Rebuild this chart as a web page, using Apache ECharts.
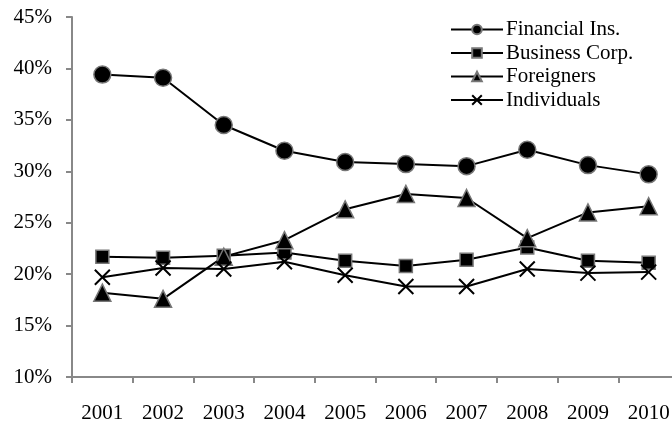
<!DOCTYPE html>
<html><head><meta charset="utf-8">
<script src="https://cdn.jsdelivr.net/npm/echarts@6/dist/echarts.min.js"></script>
<style>html,body{margin:0;padding:0;background:#fff}#c{width:672px;height:423px}</style>
</head><body><div id="c"></div>
<script>
var years = ['2001','2002','2003','2004','2005','2006','2007','2008','2009','2010'];
var financial = [39.4, 39.1, 34.5, 32.0, 30.9, 30.7, 30.5, 32.1, 30.6, 29.7];
var business = [21.7, 21.6, 21.8, 22.1, 21.3, 20.8, 21.4, 22.6, 21.3, 21.1];
var foreigners = [18.2, 17.6, 21.7, 23.3, 26.3, 27.8, 27.4, 23.5, 26.0, 26.6];
var individuals = [19.7, 20.6, 20.5, 21.2, 19.9, 18.8, 18.8, 20.5, 20.1, 20.2];

var font = 'Liberation Serif, Times New Roman, serif';
var chart = echarts.init(document.getElementById('c'));
function ser(name, data, symbol, size, extra) {
  return Object.assign({
    name: name, type: 'line', data: data, symbol: symbol, symbolSize: size,
    showAllSymbol: true,
    lineStyle: {color: '#000', width: 2},
    itemStyle: {color: '#000', borderColor: '#777', borderWidth: 1.5},
    emphasis: {disabled: true}, animation: false
  }, extra || {});
}
chart.setOption({
  animation: false,
  grid: {left: 72, top: 17, width: 607, height: 360, outerBoundsMode: 'none', containLabel: false},
  legend: {
    orient: 'vertical', left: 445, top: 14, itemGap: 2.5, itemWidth: 52, itemHeight: 12,
    textStyle: {fontFamily: font, fontSize: 21, color: '#000', padding: [0, 0, 0, -2]},
    data: ['Financial Ins.', 'Business Corp.', 'Foreigners', 'Individuals']
  },
  xAxis: {
    type: 'category', data: years, boundaryGap: true,
    axisLine: {lineStyle: {color: '#888', width: 2}},
    axisTick: {show: true, length: 6, lineStyle: {color: '#888', width: 2}},
    axisLabel: {fontFamily: font, fontSize: 21, color: '#000', margin: 26}
  },
  yAxis: {
    type: 'value', min: 10, max: 45, interval: 5,
    splitLine: {show: false},
    axisLine: {show: true, lineStyle: {color: '#888', width: 2}},
    axisTick: {show: true, length: 6, lineStyle: {color: '#888', width: 2}},
    axisLabel: {fontFamily: font, fontSize: 21, color: '#000', margin: 20, formatter: '{value}%'}
  },
  series: [
    ser('Financial Ins.', financial, 'circle', 17),
    ser('Business Corp.', business, 'rect', 13),
    ser('Foreigners', foreigners, 'triangle', 17),
    ser('Individuals', individuals, 'path://M0,0L10,10M10,0L0,10', 15,
      {itemStyle: {color: 'rgba(0,0,0,0)', borderColor: '#000', borderWidth: 2}})
  ]
});
</script></body></html>
